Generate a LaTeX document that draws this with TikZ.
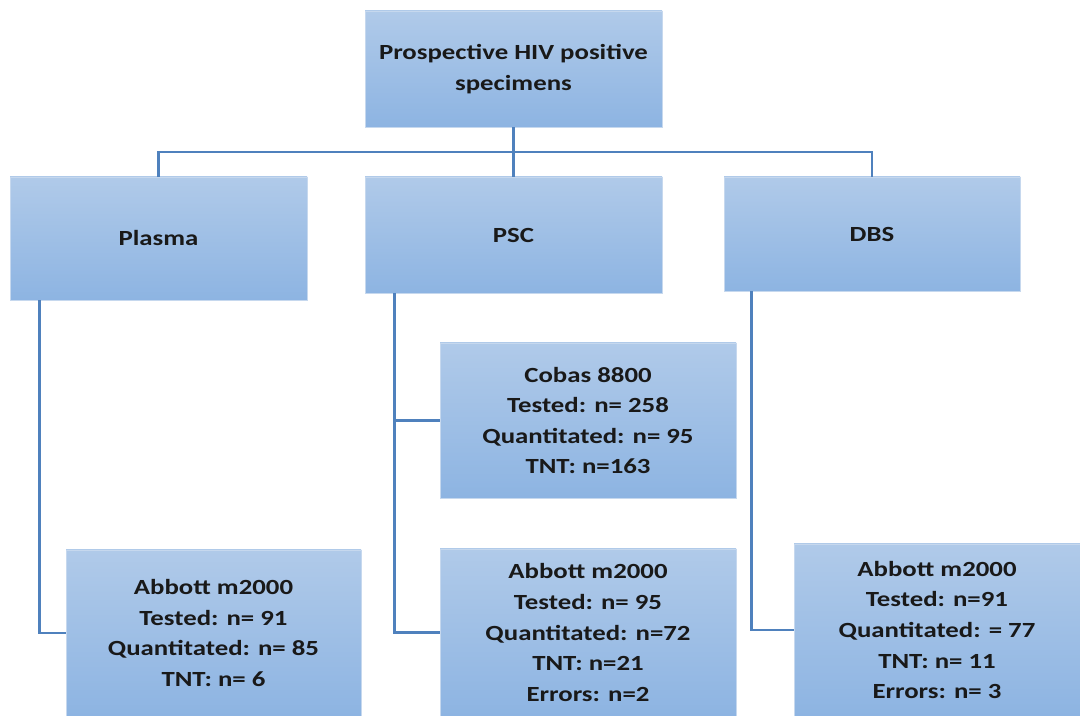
\documentclass[tikz,border=0pt]{standalone}
\usepackage{fontspec}
\setmainfont{Carlito}[FakeStretch=1.24]
\usepackage{tikz}
\usetikzlibrary{calc}
\definecolor{boxtop}{HTML}{B0CAE9}
\definecolor{boxbot}{HTML}{8DB4E2}
\definecolor{boxedge}{HTML}{C6D8EE}
\definecolor{link}{HTML}{4F81BD}

\begin{document}
\begin{tikzpicture}[
        x=0.02cm,y=-0.02cm,
        font=\bfseries\fontsize{12.3}{17.4}\selectfont,
        box/.style={draw=boxedge,line width=0.4pt,top color=boxtop,bottom color=boxbot,
          inner sep=0pt,align=center,text=black!90},
        link/.style={draw=link,line width=1.7pt}
      ]
      \useasboundingbox (0,0) rectangle (1080,716);

      % the specimens and their three types
      \node[box,minimum width=297*0.02cm,minimum height=116*0.02cm] (spec) at (513.5,69)
        {Prospective HIV positive\\specimens};
      \node[box,minimum width=297*0.02cm,minimum height=123*0.02cm] (plasma) at (158.5,238.5) {Plasma};
      \node[box,minimum width=297*0.02cm,minimum height=116*0.02cm] (psc) at (513.5,235) {PSC};
      \node[box,minimum width=296*0.02cm,minimum height=114*0.02cm] (dbs) at (872,234) {DBS};

      \coordinate (bar) at (513.5,152);
      \draw[link] (spec) -- (psc);
      \draw[link] (plasma.north) |- (bar) -| (dbs.north);

      % the assays run on each type
      \node[box,minimum width=296*0.02cm,minimum height=155*0.02cm] (cobas) at (588,420.5)
        {Cobas 8800\\Tested: n= 258\\Quantitated: n= 95\\TNT: n=163};
      \node[box,minimum width=296*0.02cm,minimum height=167*0.02cm] (abpsc) at (588,632.5)
        {Abbott m2000\\Tested: n= 95\\Quantitated: n=72\\TNT: n=21\\Errors: n=2};
      \node[box,minimum width=295*0.02cm,minimum height=166*0.02cm] (abpl) at (213.5,633)
        {Abbott m2000\\Tested: n= 91\\Quantitated: n= 85\\TNT: n= 6};
      \node[box,minimum width=286*0.02cm,minimum height=172*0.02cm] (abdbs) at (937,630)
        {Abbott m2000\\Tested: n=91\\Quantitated: = 77\\TNT: n= 11\\Errors: n= 3};

      \coordinate (pltrunk) at ($(plasma.south west)+(30,0)$);
      \coordinate (psctrunk) at ($(psc.south west)+(30,0)$);
      \coordinate (dbstrunk) at ($(dbs.south west)+(28,0)$);

      \draw[link] (pltrunk) |- (abpl.west);
      \draw[link] (psctrunk) |- (abpsc.west);
      \draw[link] (cobas.west) -- (cobas.west -| psctrunk);
      \draw[link] (dbstrunk) |- (abdbs.west);
    \end{tikzpicture}
\end{document}
